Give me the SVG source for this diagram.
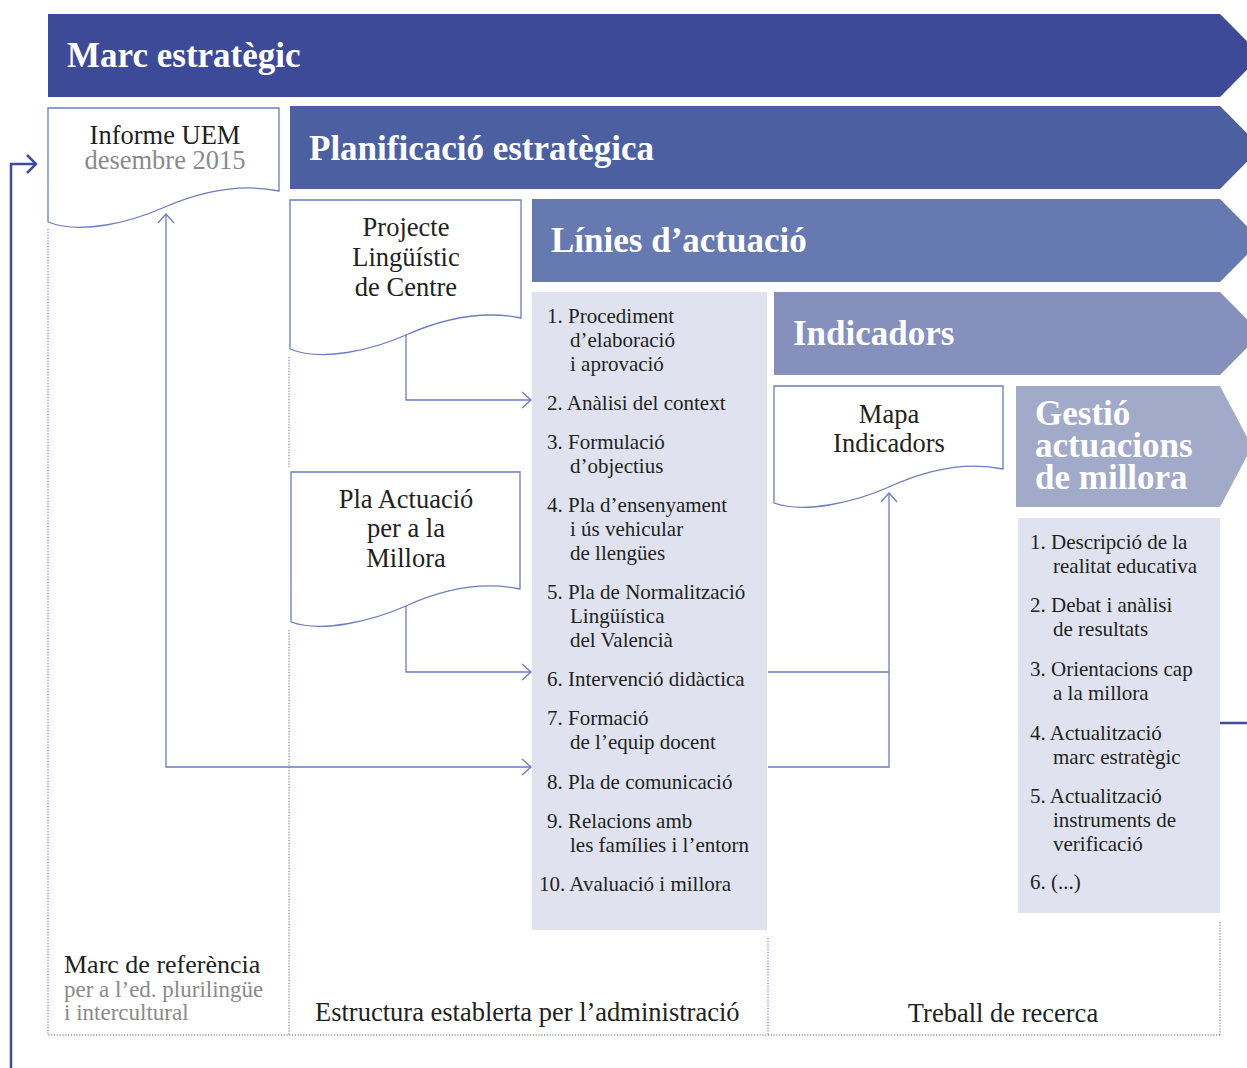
<svg xmlns="http://www.w3.org/2000/svg" width="1247" height="1068" viewBox="0 0 1247 1068">
<style>
  .hd { font-family: "Liberation Serif", "Times New Roman", serif; font-weight: bold; font-size: 35px; fill: #ffffff; }
  .tx { font-family: "Liberation Serif", "Times New Roman", serif; font-size: 26.5px; fill: #231f20; }
  .gr { fill: #8a8a8a; }
  .li { font-family: "Liberation Serif", "Times New Roman", serif; font-size: 21px; fill: #231f20; }
  .doc { fill: #ffffff; stroke: #6b7cbf; stroke-width: 1.3; }
  .con { fill: none; stroke: #6b7cbf; stroke-width: 1.3; }
  .dot { fill: none; stroke: #5862a9; stroke-width: 1; stroke-dasharray: 1.2 1.6; }
  .main { fill: none; stroke: #3f4c9a; stroke-width: 2.5; }
  .listbg { fill: #e0e3ef; }
</style>

<g id="frame">
  <path class="dot" d="M48,229 V1035 H1221"/>
  <path class="dot" d="M289,357 V467 M289,630 V1035"/>
  <path class="dot" d="M768,938 V1035"/>
  <path class="dot" d="M1220,922 V1035"/>
</g>

<g id="banner-marc">
  <polygon points="48,14 1220,14 1261,55.5 1220,97 48,97" fill="#3d4a97"/>
  <text class="hd" x="67" y="67">Marc estratègic</text>
</g>
<g id="banner-planificacio">
  <polygon points="290,106 1220,106 1261,147.5 1220,189 290,189" fill="#4b5fa1"/>
  <text class="hd" x="309" y="160">Planificació estratègica</text>
</g>
<g id="banner-linies">
  <polygon points="532,199 1220,199 1261,240.5 1220,282 532,282" fill="#6779b1"/>
  <text class="hd" x="551" y="252">Línies d’actuació</text>
</g>
<g id="banner-indicadors">
  <polygon points="774,292 1220,292 1261,333.5 1220,375 774,375" fill="#8591bc"/>
  <text class="hd" x="793" y="345">Indicadors</text>
</g>
<g id="banner-gestio">
  <polygon points="1016,386 1220,386 1252,446.5 1220,507 1016,507" fill="#a1aac9"/>
  <text class="hd" x="1035" y="425">Gestió</text>
  <text class="hd" x="1035" y="457">actuacions</text>
  <text class="hd" x="1035" y="489">de millora</text>
</g>

<g id="doc-informe">
  <path class="doc" d="M48,108 H279 V191 C240,183 200,192 165,207 C131,222 81,235 48,222 Z"/>
  <text class="tx" x="165" y="144" text-anchor="middle">Informe UEM</text>
  <text class="tx gr" x="165" y="169" text-anchor="middle">desembre 2015</text>
</g>
<g id="doc-projecte">
  <path class="doc" d="M290,200 H521 V318 C482,310 442,319 406,335 C372,350 322,362 290,349 Z"/>
  <text class="tx" x="406" y="236" text-anchor="middle">Projecte</text>
  <text class="tx" x="406" y="266" text-anchor="middle">Lingüístic</text>
  <text class="tx" x="406" y="296" text-anchor="middle">de Centre</text>
</g>
<g id="doc-pla">
  <path class="doc" d="M291,472 H520 V589 C481,581 441,590 406,606 C372,621 322,633 291,622 Z"/>
  <text class="tx" x="406" y="508" text-anchor="middle">Pla Actuació</text>
  <text class="tx" x="406" y="537" text-anchor="middle">per a la</text>
  <text class="tx" x="406" y="567" text-anchor="middle">Millora</text>
</g>
<g id="doc-mapa">
  <path class="doc" d="M774,386 H1003 V469 C964,461 924,471 889,487 C855,502 805,514 774,503 Z"/>
  <text class="tx" x="889" y="423" text-anchor="middle">Mapa</text>
  <text class="tx" x="889" y="452" text-anchor="middle">Indicadors</text>
</g>

<g id="list-linies">
  <rect class="listbg" x="532" y="292" width="235" height="638"/>
  <text class="li" x="547" y="323">1. Procediment</text>
  <text class="li" x="570" y="347">d’elaboració</text>
  <text class="li" x="570" y="371">i aprovació</text>
  <text class="li" x="547" y="410">2. Anàlisi del context</text>
  <text class="li" x="547" y="449">3. Formulació</text>
  <text class="li" x="570" y="473">d’objectius</text>
  <text class="li" x="547" y="512">4. Pla d’ensenyament</text>
  <text class="li" x="570" y="536">i ús vehicular</text>
  <text class="li" x="570" y="560">de llengües</text>
  <text class="li" x="547" y="599">5. Pla de Normalització</text>
  <text class="li" x="570" y="623">Lingüística</text>
  <text class="li" x="570" y="647">del Valencià</text>
  <text class="li" x="547" y="686">6. Intervenció didàctica</text>
  <text class="li" x="547" y="725">7. Formació</text>
  <text class="li" x="570" y="749">de l’equip docent</text>
  <text class="li" x="547" y="789">8. Pla de comunicació</text>
  <text class="li" x="547" y="828">9. Relacions amb</text>
  <text class="li" x="570" y="852">les famílies i l’entorn</text>
  <text class="li" x="539" y="891">10. Avaluació i millora</text>
</g>

<g id="list-gestio">
  <rect class="listbg" x="1018" y="518" width="202" height="395"/>
  <text class="li" x="1030" y="549">1. Descripció de la</text>
  <text class="li" x="1053" y="573">realitat educativa</text>
  <text class="li" x="1030" y="612">2. Debat i anàlisi</text>
  <text class="li" x="1053" y="636">de resultats</text>
  <text class="li" x="1030" y="676">3. Orientacions cap</text>
  <text class="li" x="1053" y="700">a la millora</text>
  <text class="li" x="1030" y="740">4. Actualització</text>
  <text class="li" x="1053" y="764">marc estratègic</text>
  <text class="li" x="1030" y="803">5. Actualització</text>
  <text class="li" x="1053" y="827">instruments de</text>
  <text class="li" x="1053" y="851">verificació</text>
  <text class="li" x="1030" y="889">6. (...)</text>
</g>

<g id="labels">
  <text class="tx" x="64" y="973" style="font-size:26px">Marc de referència</text>
  <text class="tx gr" x="64" y="997" style="font-size:23px">per a l’ed. plurilingüe</text>
  <text class="tx gr" x="64" y="1020" style="font-size:23px">i intercultural</text>
  <text class="tx" x="315" y="1021">Estructura establerta per l’administració</text>
  <text class="tx" x="1003" y="1022" text-anchor="middle">Treball de recerca</text>
</g>

<g id="connectors">
  <path class="con" d="M406,335 V400 H531"/>
  <polyline class="con" points="522,392 531,400 522,408"/>
  <path class="con" d="M406,606 V672 H531"/>
  <polyline class="con" points="522,664 531,672 522,680"/>
  <path class="con" d="M531,767 H166 V214"/>
  <polyline class="con" points="522,759 531,767 522,775"/>
  <polyline class="con" points="158,223 166,214 174,223"/>
  <path class="con" d="M768,672 H889 M768,767 H889 V493"/>
  <polyline class="con" points="881,502 889,493 897,502"/>
  <path class="main" d="M11,1068 V164 H36"/>
  <polyline class="main" points="27,155 36,164 27,173"/>
  <path class="main" d="M1220,723 H1247"/>
</g>
</svg>
